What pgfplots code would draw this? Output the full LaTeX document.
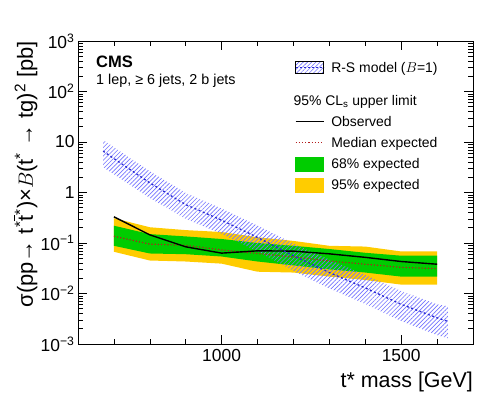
\documentclass[border=0pt]{standalone}
\usepackage{fontspec}
\setmainfont{Liberation Sans}
\usepackage{pgfplots}
\usepackage{pgfplotstable}
\pgfplotsset{compat=1.18}
\usepgfplotslibrary{fillbetween}
\usetikzlibrary{patterns.meta}
\definecolor{cmsgreen}{RGB}{0,204,0}
\definecolor{cmsyellow}{RGB}{255,204,0}
\definecolor{hatchblue}{RGB}{115,115,255}
\definecolor{rsblue}{RGB}{40,40,210}
\definecolor{medred}{RGB}{180,30,30}
\newcommand{\tbar}{\rlap{\raisebox{0.80em}{\hspace{0.01em}\rule{0.27em}{0.06em}}}t}

\pgfplotstableread{
mass obs exp glo ghi ylo yhi
700 0.33 0.136 0.088 0.22 0.067 0.31
800 0.145 0.095 0.062 0.15 0.045 0.205
900 0.084 0.090 0.060 0.135 0.043 0.18
1000 0.063 0.073 0.054 0.12 0.039 0.165
1100 0.070 0.062 0.043 0.10 0.027 0.13
1200 0.069 0.053 0.036 0.088 0.026 0.11
1300 0.061 0.044 0.030 0.076 0.0216 0.088
1400 0.052 0.038 0.026 0.064 0.0185 0.085
1500 0.043 0.033 0.0216 0.056 0.015 0.068
1600 0.038 0.031 0.0216 0.056 0.015 0.068
}\limits

\pgfplotstableread{
mass xs lo hi
670 6.6 3.16 11.0
700 4.7 2.3 7.9
800 1.55 0.78 2.63
900 0.575 0.30 0.98
1000 0.283 0.152 0.48
1100 0.129 0.068 0.221
1200 0.056 0.028 0.098
1300 0.026 0.0126 0.047
1400 0.0129 0.0062 0.0234
1500 0.0061 0.00285 0.0112
1600 0.0033 0.0015 0.0061
1630 0.0028 0.0013 0.0056
}\theory

\begin{document}
\begin{tikzpicture}
\begin{axis}[name=ax, scale only axis, width=395bp, height=303bp,
  xmin=600, xmax=1700, ymode=log, ymin=1e-3, ymax=1e3,
  xtick={1000,1500}, xticklabels={1000,1500},
  minor xtick={600,700,800,900,1100,1200,1300,1400,1600,1700},
  ytick={1e-3,1e-2,1e-1,1,10,100,1000},
  yticklabels={10\textsuperscript{−3},10\textsuperscript{−2},10\textsuperscript{−1},1,10,10\textsuperscript{2},10\textsuperscript{3}},
  minor ytick={2e-3,3e-3,4e-3,5e-3,6e-3,7e-3,8e-3,9e-3,2e-2,3e-2,4e-2,5e-2,6e-2,7e-2,8e-2,9e-2,0.2,0.3,0.4,0.5,0.6,0.7,0.8,0.9,2,3,4,5,6,7,8,9,20,30,40,50,60,70,80,90,200,300,400,500,600,700,800,900},
  tick align=inside, major tick length=9bp, minor tick length=5bp,
  tick style={black, line width=0.6bp},
  axis line style={line width=0.8bp},
  tick label style={font=\fontsize{17.5}{18}\selectfont},
  xticklabel style={yshift=-2bp},
  xlabel={t* mass [GeV]},
  xlabel style={at={(axis description cs:1,0)}, anchor=base east, inner sep=0pt, yshift=-43bp, font=\fontsize{21.5}{22}\selectfont},
  ylabel={σ(pp→ t\textsuperscript{*}\tbar\textsuperscript{*})×$B$(t\textsuperscript{*} → tg)\textsuperscript{2} [pb]},
  ylabel style={at={(axis description cs:-0.114,1)}, anchor=base east, inner sep=0pt, font=\fontsize{22}{23}\selectfont},
  legend style={draw=none, fill=none, inner sep=0pt, outer sep=0pt,
    at={(axis description cs:0.549,0.943)}, anchor=north west,
    cells={anchor=base west}, nodes={inner sep=0pt, text depth=}, row sep=0pt, column sep=7bp,
    font=\fontsize{14}{16}\selectfont},
]
\addplot[draw=none, name path=yhi, forget plot] table[x=mass,y=yhi]{\limits};
\addplot[draw=none, name path=ylo, forget plot] table[x=mass,y=ylo]{\limits};
\addplot[draw=none, name path=ghi, forget plot] table[x=mass,y=ghi]{\limits};
\addplot[draw=none, name path=glo, forget plot] table[x=mass,y=glo]{\limits};
\addplot[draw=none, name path=thi, forget plot] table[x=mass,y=hi]{\theory};
\addplot[draw=none, name path=tlo, forget plot] table[x=mass,y=lo]{\theory};
\addplot[cmsyellow, forget plot] fill between[of=yhi and ylo];
\addplot[cmsgreen, forget plot] fill between[of=ghi and glo];
\addplot[draw=none, pattern={Lines[angle=45,distance=3bp,line width=0.65bp]}, pattern color=hatchblue, forget plot] fill between[of=thi and tlo];
\addplot[medred, line width=1.2bp, dotted, forget plot] table[x=mass,y=exp]{\limits};
\addplot[black, line width=1.4bp, forget plot] table[x=mass,y=obs]{\limits};
\addplot[rsblue, line width=1.3bp, dash pattern=on 2bp off 2.5bp, forget plot] table[x=mass,y=xs]{\theory};

\addlegendimage{legend image code/.code={\fill[pattern={Lines[angle=45,distance=3bp,line width=0.65bp]}, pattern color=hatchblue] (0bp,-1bp) rectangle (28bp,11bp); \draw[rsblue, line width=1.2bp, dash pattern=on 2bp off 2bp] (0bp,5bp)--(28bp,5bp);}}
\addlegendentry{\rule[-19bp]{0pt}{33bp}R-S model ($B$=1)}
\addlegendimage{legend image code/.code={\node[overlay, anchor=base west, inner sep=0pt, font=\fontsize{14}{16}\selectfont] at (-2bp,0bp) {95\% CL\textsubscript{s} upper limit};}}
\addlegendentry{\rule[-7bp]{0pt}{21bp}\hspace{1bp}}
\addlegendimage{legend image code/.code={\draw[black, line width=1.4bp] (0bp,4.5bp)--(28bp,4.5bp);}}
\addlegendentry{\rule[-7bp]{0pt}{21bp}Observed}
\addlegendimage{legend image code/.code={\draw[medred, line width=1.2bp, dotted] (0bp,4.5bp)--(28bp,4.5bp);}}
\addlegendentry{\rule[-7bp]{0pt}{21bp}Median expected}
\addlegendimage{legend image code/.code={\fill[cmsgreen] (0bp,-2.5bp) rectangle (28bp,11.5bp);}}
\addlegendentry{\rule[-7bp]{0pt}{21bp}68\% expected}
\addlegendimage{legend image code/.code={\fill[cmsyellow] (0bp,-2.5bp) rectangle (28bp,11.5bp);}}
\addlegendentry{\rule[-7bp]{0pt}{21bp}95\% expected}

\node[anchor=base west, inner sep=0pt, font=\fontsize{16.6}{18}\selectfont\bfseries] at (axis description cs:0.0456,0.911) {CMS};
\node[anchor=base west, inner sep=0pt, font=\fontsize{14.4}{16}\selectfont] at (axis description cs:0.0456,0.858) {1 lep, ≥ 6 jets, 2 b jets};
\node[anchor=base east, inner sep=0pt, font=\fontsize{17.3}{18}\selectfont] at (axis description cs:1,1) [yshift=11bp] {35.7(e), 35.9(μ) fb\textsuperscript{-1} (13 TeV)};
\end{axis}
\pgfresetboundingbox
\path[use as bounding box] ([xshift=-78bp,yshift=-51bp]ax.south west) rectangle ([xshift=25bp,yshift=41bp]ax.north east);
\end{tikzpicture}
\end{document}
